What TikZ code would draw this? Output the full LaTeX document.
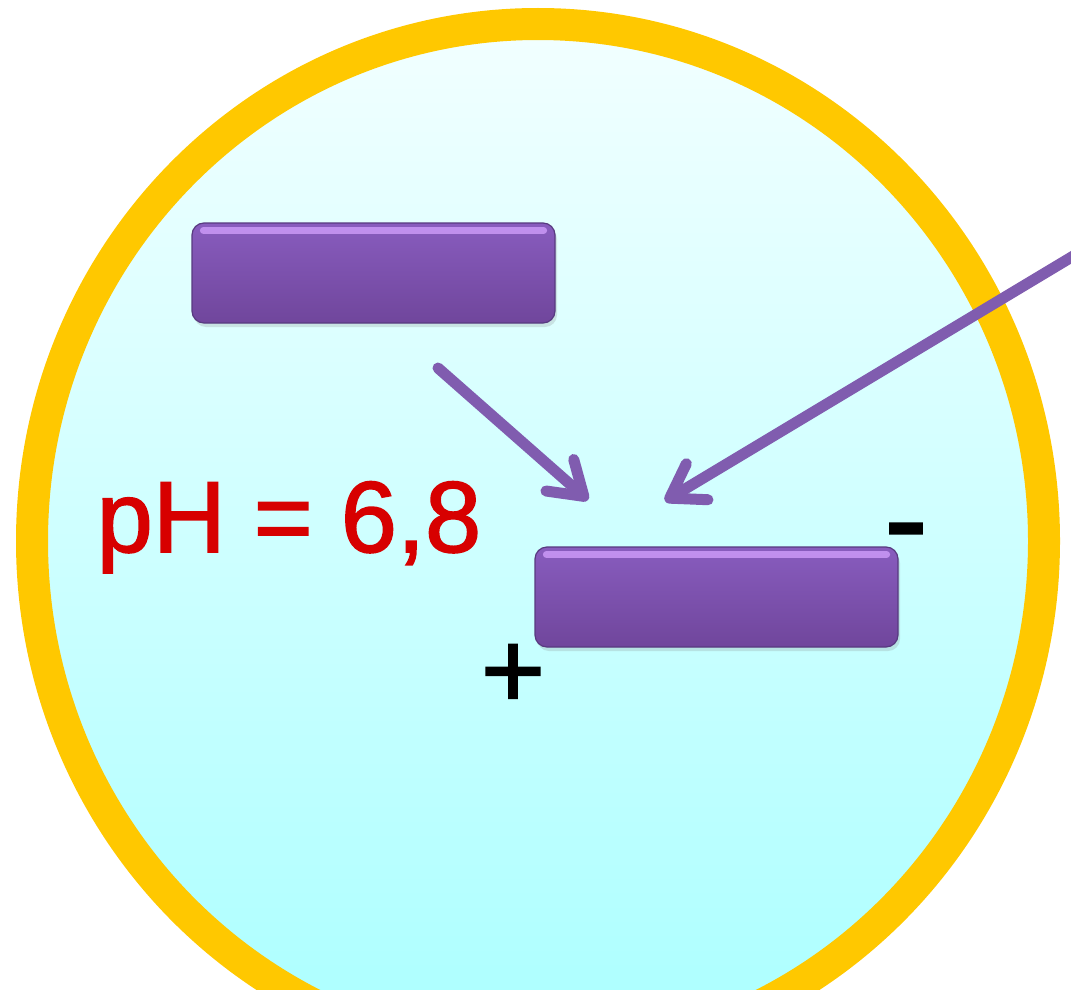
\documentclass[tikz,border=0pt]{standalone}
\usepackage{fontspec}
\setmainfont{Liberation Sans}
\newfontfamily\heavysans[FakeBold=1.6]{Liberation Sans}
\usetikzlibrary{arrows.meta,shadows}
\definecolor{ringc}{RGB}{255,200,0}
\definecolor{celltop}{RGB}{242,255,255}
\definecolor{cellbot}{RGB}{170,255,255}
\definecolor{bartop}{RGB}{136,92,190}
\definecolor{barbot}{RGB}{112,70,156}
\definecolor{barhl}{RGB}{212,162,255}
\definecolor{barline}{RGB}{88,58,128}
\definecolor{arrowc}{RGB}{128,92,175}
\definecolor{phred}{RGB}{215,0,0}
\tikzset{
  bar/.style={shape=rectangle, rounded corners=12pt, minimum width=363pt, minimum height=100pt,
    inner sep=0pt, draw=barline, line width=1.2pt, top color=bartop, bottom color=barbot,
    drop shadow={opacity=0.22, shadow xshift=2pt, shadow yshift=-4pt}},
  barhighlight/.style={draw=barhl, line width=7pt, line cap=round, opacity=0.75},
  arr/.style={draw=arrowc, line width=11pt, line cap=round,
    -{Straight Barb[length=32pt,width=42pt,line cap=round,line join=round]}},
  phtext/.style={anchor=base west, inner sep=0pt, font=\heavysans\fontsize{101}{101}\selectfont},
  signtext/.style={anchor=base, inner sep=0pt, text=black}
}
\begin{document}
\begin{tikzpicture}[x=1pt,y=-1pt]
\useasboundingbox (0,0) rectangle (1071,990);
\clip (0,0) rectangle (1071,990);
\fill[white] (0,0) rectangle (1071,990);
% cell
\draw[ringc, line width=32pt, top color=celltop, bottom color=cellbot]
  (538,541) ellipse [x radius=506pt, y radius=517pt];
% bars
\node[bar] (bartopnode) at (373.5,273) {};
\node[bar] (barbotnode) at (716.5,597) {};
\draw[barhighlight] ([xshift=12pt,yshift=-8pt]bartopnode.north west) -- ([xshift=-12pt,yshift=-8pt]bartopnode.north east);
\draw[barhighlight] ([xshift=12pt,yshift=-8pt]barbotnode.north west) -- ([xshift=-12pt,yshift=-8pt]barbotnode.north east);
% arrows
\coordinate (a1s) at (438,368);
\coordinate (a1e) at (588,500);
\coordinate (a2s) at (1080,252);
\coordinate (a2e) at (665,501);
\draw[arr] (a1s) -- (a1e);
\draw[arr] (a2s) -- (a2e);
% text
\node[phtext, text=phred] (ph) at (96.5,552) {pH = 6,8};
\node[signtext, font=\heavysans\fontsize{110}{110}\selectfont] (plus) at (513,708) {+};
\node[signtext, font=\heavysans\fontsize{130}{130}\selectfont] (minus) at (906,563) {-};
\end{tikzpicture}
\end{document}
